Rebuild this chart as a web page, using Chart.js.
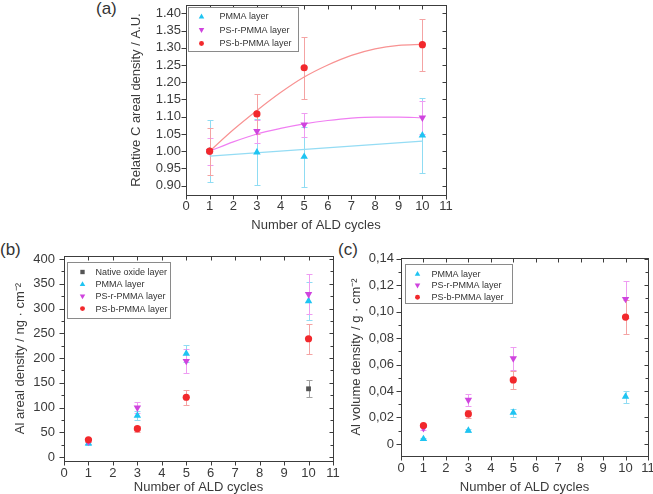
<!DOCTYPE html>
<html>
<head>
<meta charset="utf-8">
<script src="https://cdn.jsdelivr.net/npm/chart.js@4.4.1/dist/chart.umd.min.js"></script>
<style>
  html, body { margin: 0; padding: 0; background: #fff; overflow: hidden; width: 653px; height: 494px; }
  canvas { position: absolute; }
  .tag { position: absolute; font: 17px "Liberation Sans", Arial, sans-serif; color: #333; line-height: 17px; }
</style>
</head>
<body>
<div class="tag" style="left:96px;top:0px">(a)</div>
<div class="tag" style="left:0px;top:241px">(b)</div>
<div class="tag" style="left:338px;top:241px">(c)</div>
<canvas id="chartA" width="331" height="232" style="left:130px;top:0px"></canvas>
<canvas id="chartB" width="334" height="244" style="left:14px;top:250px"></canvas>
<canvas id="chartC" width="313" height="244" style="left:350px;top:250px"></canvas>
<script>
const FONT = '"Liberation Sans", Arial, sans-serif';

// ALD cycles where samples were measured
const cycles = [1, 3, 5, 10];
const xTicks = [0, 1, 2, 3, 4, 5, 6, 7, 8, 9, 10, 11];

// (a) relative C areal density
const aPmma = [1.00, 0.997, 0.984, 1.046];
const aPmmaErr = [0.09, 0.095, 0.087, 0.108];
const aPsr = [1.00, 1.058, 1.077, 1.097];
const aPsrErr = [0.039, 0.033, 0.035, 0.048];
const aPsb = [1.00, 1.108, 1.242, 1.309];
const aPsbErr = [0.068, 0.058, 0.09, 0.075];
// fitted curves
const fitX = [1, 2, 3, 4, 5, 6, 7, 8, 9, 10];
const aPsbFit = [1.00, 1.062, 1.118, 1.17, 1.215, 1.25, 1.278, 1.297, 1.307, 1.31];
const aPsrFit = [1.00, 1.027, 1.05, 1.066, 1.079, 1.089, 1.096, 1.099, 1.099, 1.097];
const aPmmaFitX = [1, 10];
const aPmmaFit = [0.986, 1.029];
const aTicks = [0.90, 0.95, 1.00, 1.05, 1.10, 1.15, 1.20, 1.25, 1.30, 1.35, 1.40];

// (b) Al areal density, ng/cm2
const nativeCycles = [10];
const bNative = [138];
const bNativeErr = [17];
const bPmma = [28, 84, 209, 315];
const bPmmaErr = [3, 9, 17, 39];
const bPsr = [31, 100, 194, 329];
const bPsrErr = [4, 11, 25, 40];
const bPsb = [35, 57.5, 121, 239];
const bPsbErr = [4, 6, 15, 30];
const bTicks = [0, 50, 100, 150, 200, 250, 300, 350, 400];
const bMinor = [25, 75, 125, 175, 225, 275, 325, 375];

// (c) Al volume density, g/cm2
const cPmma = [0.0038, 0.0101, 0.0237, 0.0358];
const cPmmaErr = [0.0005, 0.001, 0.003, 0.0045];
const cPsr = [0.0119, 0.0333, 0.0646, 0.1095];
const cPsrErr = [0.0012, 0.0045, 0.0086, 0.014];
const cPsb = [0.0139, 0.0227, 0.0484, 0.0959];
const cPsbErr = [0.0012, 0.003, 0.0066, 0.0129];
const cTicks = [0, 0.02, 0.04, 0.06, 0.08, 0.10, 0.12, 0.14];
const cMinor = [0.01, 0.03, 0.05, 0.07, 0.09, 0.11, 0.13];

const CYAN = '#1ec4f2', CYAN_ERR = '#8fdcf3', CYAN_FIT = '#94dcf4';
const MAG = '#cf44de', MAG_ERR = '#ee9cf2', MAG_FIT = '#f07ef2';
const RED = '#f2282c', RED_ERR = '#f4a3a3', RED_FIT = '#f89292';
const GRAY = '#555555', GRAY_ERR = '#a0a0a0';

const pts = (xs, ys) => xs.map((x, i) => ({ x: x, y: ys[i] }));

function markers(label, xs, ys, errs, style, color, errColor, order) {
  return {
    label: label,
    data: pts(xs, ys),
    errors: errs,
    errorColor: errColor,
    pointStyle: style === 'down' ? 'triangle' : style,
    rotation: style === 'down' ? 180 : 0,
    markStyle: style,
    pointRadius: style === 'circle' ? 3.6 : (style === 'rect' ? 3.4 : 4.3),
    backgroundColor: color,
    borderColor: color,
    borderWidth: 0,
    order: order
  };
}

function fit(xs, ys, color) {
  return {
    data: pts(xs, ys),
    isFit: true,
    showLine: true,
    pointRadius: 0,
    borderColor: color,
    borderWidth: 1.2,
    cubicInterpolationMode: 'monotone',
    order: 10
  };
}

// vertical error bars drawn under the markers
const errorBars = {
  id: 'errorBars',
  beforeDatasetsDraw(chart) {
    const { ctx, scales: { x, y } } = chart;
    chart.data.datasets.forEach(ds => {
      if (!ds.errors) return;
      ctx.save();
      ctx.strokeStyle = ds.errorColor;
      ctx.lineWidth = 1;
      ctx.beginPath();
      ds.data.forEach((p, i) => {
        const px = Math.round(x.getPixelForValue(p.x)) + 0.5;
        const top = Math.round(y.getPixelForValue(p.y + ds.errors[i])) + 0.5;
        const bot = Math.round(y.getPixelForValue(p.y - ds.errors[i])) + 0.5;
        ctx.moveTo(px, top); ctx.lineTo(px, bot);
        ctx.moveTo(px - 3, top); ctx.lineTo(px + 3, top);
        ctx.moveTo(px - 3, bot); ctx.lineTo(px + 3, bot);
      });
      ctx.stroke();
      ctx.restore();
    });
  }
};

// box round the plot plus tick marks on all four sides
const frame = {
  id: 'frame',
  afterDraw(chart, args, opts) {
    const { ctx, chartArea: a, scales: { x, y } } = chart;
    const l = Math.round(a.left) + 0.5, r = Math.round(a.right) + 0.5;
    const t = Math.round(a.top) + 0.5, b = Math.round(a.bottom) + 0.5;
    ctx.save();
    ctx.strokeStyle = '#3c3c3c';
    ctx.lineWidth = 1;
    ctx.strokeRect(l, t, r - l, b - t);
    ctx.beginPath();
    xTicks.forEach(v => {
      const px = Math.round(x.getPixelForValue(v)) + 0.5;
      ctx.moveTo(px, b); ctx.lineTo(px, b + 4);
      ctx.moveTo(px, t); ctx.lineTo(px, t + 4);
    });
    opts.yMajor.forEach(v => {
      const py = Math.round(y.getPixelForValue(v)) + 0.5;
      ctx.moveTo(l - 5, py); ctx.lineTo(l, py);
      ctx.moveTo(r - 4, py); ctx.lineTo(r, py);
    });
    (opts.yMinor || []).forEach(v => {
      const py = Math.round(y.getPixelForValue(v)) + 0.5;
      ctx.moveTo(l - 3, py); ctx.lineTo(l, py);
      ctx.moveTo(r - 3, py); ctx.lineTo(r, py);
    });
    ctx.stroke();
    ctx.restore();
  }
};

function drawMarker(ctx, style, cx, cy, r) {
  ctx.beginPath();
  if (style === 'circle') {
    ctx.arc(cx, cy, r * 0.85, 0, Math.PI * 2);
  } else if (style === 'rect') {
    ctx.rect(cx - r * 0.75, cy - r * 0.75, r * 1.5, r * 1.5);
  } else {
    const s = style === 'down' ? -1 : 1;
    ctx.moveTo(cx, cy - s * r);
    ctx.lineTo(cx + r * 0.95, cy + s * r * 0.65);
    ctx.lineTo(cx - r * 0.95, cy + s * r * 0.65);
    ctx.closePath();
  }
  ctx.fill();
}

// legend box inside the plot area, top left
const boxLegend = {
  id: 'boxLegend',
  afterDraw(chart, args, o) {
    const { ctx, chartArea: a } = chart;
    const bx = Math.round(a.left + o.left) + 0.5, by = Math.round(a.top + o.top) + 0.5;
    ctx.save();
    ctx.fillStyle = '#fff';
    ctx.fillRect(bx, by, o.width, o.height);
    ctx.strokeStyle = '#8a8a8a';
    ctx.lineWidth = 1;
    ctx.strokeRect(bx, by, o.width, o.height);
    ctx.font = '9px ' + FONT;
    ctx.textBaseline = 'middle';
    let row = 0;
    chart.data.datasets.forEach(ds => {
      if (ds.isFit) return;
      const cy = by + o.first + row * o.step;
      ctx.fillStyle = ds.backgroundColor;
      drawMarker(ctx, ds.markStyle, bx + o.markX, cy, 2.9);
      ctx.fillStyle = '#333';
      ctx.fillText(ds.label, bx + o.textX, cy + 0.5);
      row++;
    });
    ctx.restore();
  }
};

function scales(o) {
  const tickFont = { family: FONT, size: 13 };
  const titleFont = { family: FONT, size: 13, lineHeight: 1 };
  return {
    x: {
      type: 'linear', min: 0, max: 11,
      afterBuildTicks: s => { s.ticks = xTicks.map(v => ({ value: v })); },
      ticks: { font: tickFont, color: '#3a3a3a', padding: o.xPad, maxRotation: 0, autoSkip: false },
      grid: { display: false, drawTicks: false },
      border: { display: false },
      title: { display: true, text: 'Number of ALD cycles', font: titleFont, color: '#3a3a3a', padding: 0 },
      afterFit: s => { s.height = o.xH; s.paddingLeft = 0; s.paddingRight = 0; }
    },
    y: {
      type: 'linear', min: o.yMin, max: o.yMax,
      afterBuildTicks: s => { s.ticks = o.yTicks.map(v => ({ value: v })); },
      ticks: { font: tickFont, color: '#3a3a3a', padding: o.yPad, callback: o.fmt },
      grid: { display: false, drawTicks: false },
      border: { display: false },
      title: { display: true, text: o.yTitle, font: titleFont, color: '#3a3a3a', padding: 0 },
      afterFit: s => { s.width = o.yW; s.paddingTop = 0; s.paddingBottom = 0; }
    }
  };
}

function makeChart(id, datasets, sc, pad, fr, lg) {
  return new Chart(document.getElementById(id), {
    type: 'scatter',
    data: { datasets: datasets },
    options: {
      responsive: false,
      animation: false,
      devicePixelRatio: 1,
      events: [],
      layout: { padding: pad },
      scales: scales(sc),
      plugins: {
        legend: { display: false },
        tooltip: { enabled: false },
        frame: fr,
        boxLegend: lg
      }
    },
    plugins: [errorBars, frame, boxLegend]
  });
}

makeChart('chartA', [
  markers('PMMA layer', cycles, aPmma, aPmmaErr, 'triangle', CYAN, CYAN_ERR, 3),
  markers('PS-r-PMMA layer', cycles, aPsr, aPsrErr, 'down', MAG, MAG_ERR, 2),
  markers('PS-b-PMMA layer', cycles, aPsb, aPsbErr, 'circle', RED, RED_ERR, 1),
  fit(fitX, aPsbFit, RED_FIT),
  fit(fitX, aPsrFit, MAG_FIT),
  fit(aPmmaFitX, aPmmaFit, CYAN_FIT)
], {
  yMin: 0.873, yMax: 1.424, yTicks: aTicks, fmt: v => v.toFixed(2),
  yTitle: 'Relative C areal density / A.U.', yW: 56, yPad: 5, xH: 37, xPad: 4
}, { left: 0, top: 5, right: 15, bottom: 0 },
{ yMajor: aTicks },
{ left: 2, top: 2, width: 110, height: 44, first: 9, step: 13.5, markX: 13, textX: 31 });

makeChart('chartB', [
  markers('Native oxide layer', nativeCycles, bNative, bNativeErr, 'rect', GRAY, GRAY_ERR, 4),
  markers('PMMA layer', cycles, bPmma, bPmmaErr, 'triangle', CYAN, CYAN_ERR, 3),
  markers('PS-r-PMMA layer', cycles, bPsr, bPsrErr, 'down', MAG, MAG_ERR, 2),
  markers('PS-b-PMMA layer', cycles, bPsb, bPsbErr, 'circle', RED, RED_ERR, 1)
], {
  yMin: -7.7, yMax: 406, yTicks: bTicks, fmt: v => String(v),
  yTitle: 'Al areal density / ng · cm⁻²', yW: 50, yPad: 9, xH: 33, xPad: 5
}, { left: 0, top: 6, right: 15, bottom: 0 },
{ yMajor: bTicks, yMinor: bMinor },
{ left: 3, top: 6, width: 103, height: 56, first: 9.5, step: 12.2, markX: 15, textX: 28 });

makeChart('chartC', [
  markers('PMMA layer', cycles, cPmma, cPmmaErr, 'triangle', CYAN, CYAN_ERR, 3),
  markers('PS-r-PMMA layer', cycles, cPsr, cPsrErr, 'down', MAG, MAG_ERR, 2),
  markers('PS-b-PMMA layer', cycles, cPsb, cPsbErr, 'circle', RED, RED_ERR, 1)
], {
  yMin: -0.0091, yMax: 0.1405, yTicks: cTicks,
  fmt: v => (v === 0 ? '0' : v.toFixed(2).replace('.', ',')),
  yTitle: 'Al volume density / g · cm⁻²', yW: 51, yPad: 7, xH: 38, xPad: 5
}, { left: 0, top: 8, right: 15, bottom: 0 },
{ yMajor: cTicks, yMinor: cMinor },
{ left: 4, top: 6, width: 107, height: 39, first: 9.3, step: 11.7, markX: 12, textX: 26 });
</script>
</body>
</html>
